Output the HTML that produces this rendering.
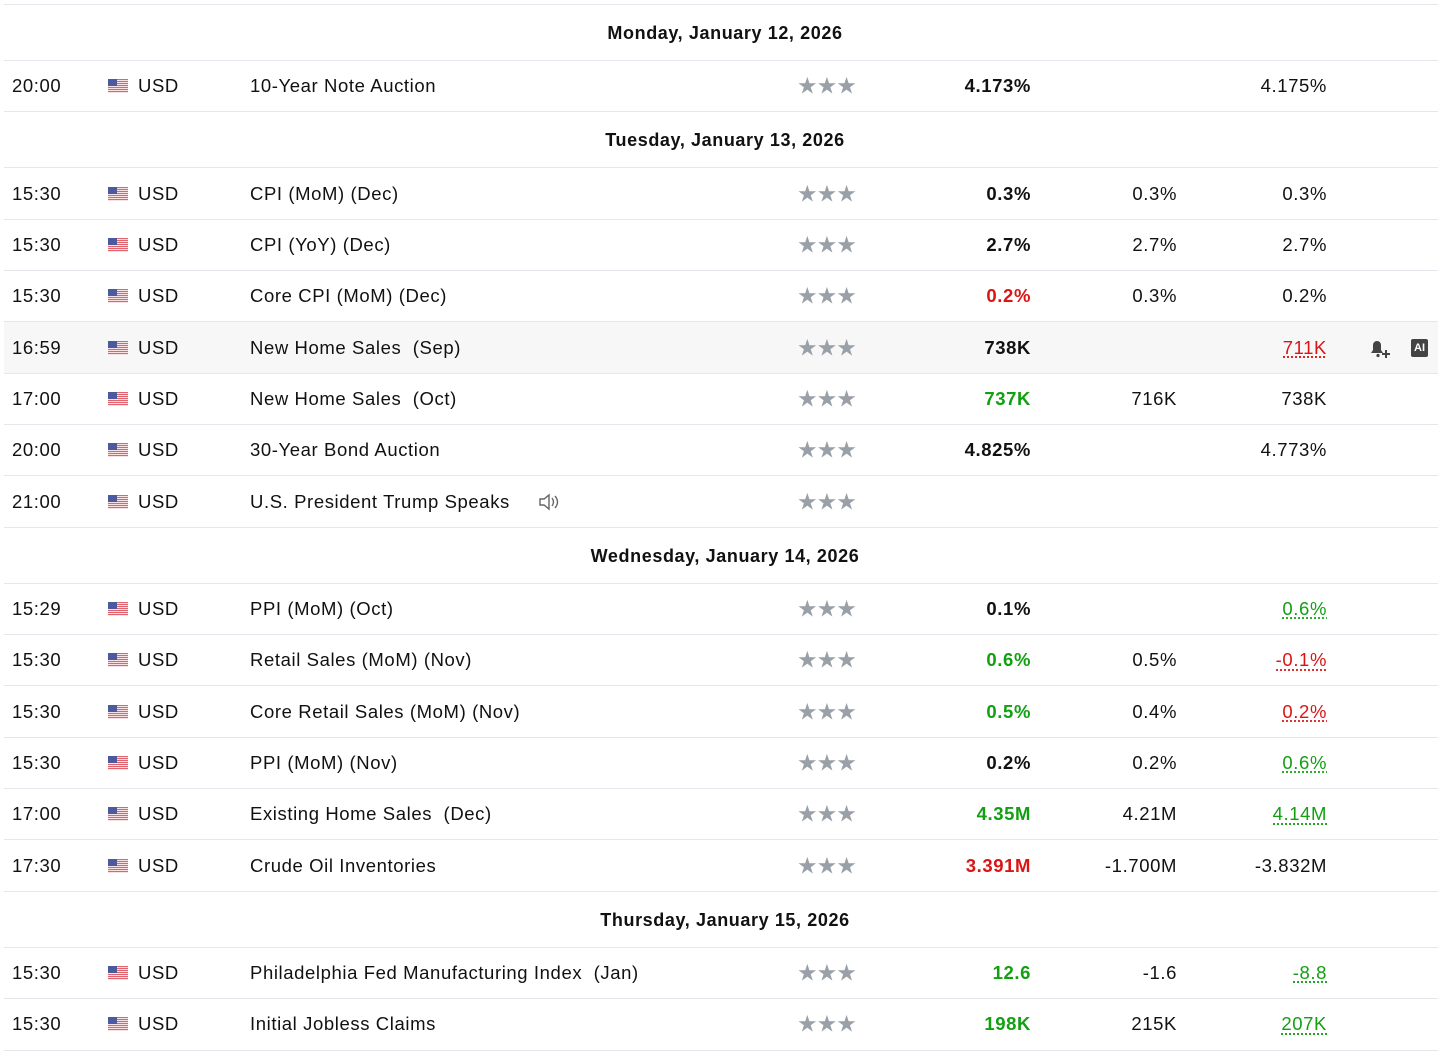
<!DOCTYPE html>
<html><head><meta charset="utf-8"><style>
body{margin:0;width:1456px;height:1062px;background:#fff;font-family:"Liberation Sans",sans-serif;color:#111;overflow:hidden}
#tbl{position:absolute;left:4px;top:4px;width:1434px;border-top:1px solid #e4e7eb}
.day{height:55px;border-bottom:1px solid #e4e7eb;font-weight:bold;font-size:18px;letter-spacing:0.6px;text-align:center;line-height:56px;padding-left:8px}
.row{height:50.35px;border-bottom:1px solid #e4e7eb;position:relative;font-size:18.5px;letter-spacing:0.6px}
.row>*{position:absolute;top:50%;transform:translateY(-50%)}
.t{left:8px}.fl{left:104px;width:20px;height:14px}.cur{left:134px}.ev{left:246px}
.st{left:793px;color:#9aa0a8;font-size:23px;letter-spacing:-1px}
.a{right:407px;font-weight:bold}.f{right:261px}.p{right:111px}
.g{color:#12a012}.r{color:#dc1414}
.u{text-decoration:underline dotted;text-underline-offset:3px}
.hl{background:#f7f7f8}
</style></head><body>
<div id="tbl"></div>
<script>
const rows=[
["D","Monday, January 12, 2026"],
["20:00","10-Year Note Auction","4.173%","","","4.175%",""],
["D","Tuesday, January 13, 2026"],
["15:30","CPI (MoM) (Dec)","0.3%","","0.3%","0.3%",""],
["15:30","CPI (YoY) (Dec)","2.7%","","2.7%","2.7%",""],
["15:30","Core CPI (MoM) (Dec)","0.2%","r","0.3%","0.2%",""],
["16:59","New Home Sales&nbsp; (Sep)","738K","","","711K","r",1],
["17:00","New Home Sales&nbsp; (Oct)","737K","g","716K","738K",""],
["20:00","30-Year Bond Auction","4.825%","","","4.773%",""],
["21:00","U.S. President Trump Speaks","","","","","",0,1],
["D","Wednesday, January 14, 2026"],
["15:29","PPI (MoM) (Oct)","0.1%","","","0.6%","g"],
["15:30","Retail Sales (MoM) (Nov)","0.6%","g","0.5%","-0.1%","r"],
["15:30","Core Retail Sales (MoM) (Nov)","0.5%","g","0.4%","0.2%","r"],
["15:30","PPI (MoM) (Nov)","0.2%","","0.2%","0.6%","g"],
["17:00","Existing Home Sales&nbsp; (Dec)","4.35M","g","4.21M","4.14M","g"],
["17:30","Crude Oil Inventories","3.391M","r","-1.700M","-3.832M",""],
["D","Thursday, January 15, 2026"],
["15:30","Philadelphia Fed Manufacturing Index&nbsp; (Jan)","12.6","g","-1.6","-8.8","g"],
["15:30","Initial Jobless Claims","198K","g","215K","207K","g"]
];
const flag='<svg class="fl" viewBox="0 0 20 14"><rect width="20" height="14" fill="#fff"/>'+[0,2,4,6,8,10,12].map(y=>`<rect y="${y}" width="20" height="1.2" fill="#e0646e"/>`).join('')+'<rect width="9" height="7" fill="#4a5a9c"/></svg>';
let h='';
rows.forEach(r=>{
 if(r[0]==='D'){h+=`<div class="day">${r[1]}</div>`;return;}
 h+=`<div class="row${r[7]?' hl':''}">
<span class="t">${r[0]}</span>${flag}
<span class="cur">USD</span>
<span class="ev">${r[1]}${r[8]?' <svg style="margin-left:22px;vertical-align:-4px" width="22" height="20" viewBox="0 0 22 20" fill="none" stroke="#666" stroke-width="1.4"><path d="M2 7h4l5-4v14l-5-4H2z"/><path d="M14 6q3 4 0 8M17 4q5 6 0 12"/></svg>':''}</span>
<span class="st">★★★</span>
<span class="a ${r[3]}">${r[2]}</span>
<span class="f">${r[4]}</span>
<span class="p ${r[6]} ${r[6]?'u':''}">${r[5]}</span>
${r[7]?'<svg style="right:46px" width="24" height="24" viewBox="0 0 24 24"><path d="M5 17h10l-2-3V9a4 4 0 0 0-8 0v5l-2 3z" fill="#444"/><circle cx="10" cy="19.5" r="1.6" fill="#444"/><path d="M18 14v8M14 18h8" stroke="#444" stroke-width="2"/></svg><span style="right:10px;background:#444;color:#fff;font-size:11px;font-weight:bold;padding:3px 3px;border-radius:2px;letter-spacing:0">AI</span>':''}
</div>`;
});
document.getElementById('tbl').innerHTML=h;
</script>
</body></html>
